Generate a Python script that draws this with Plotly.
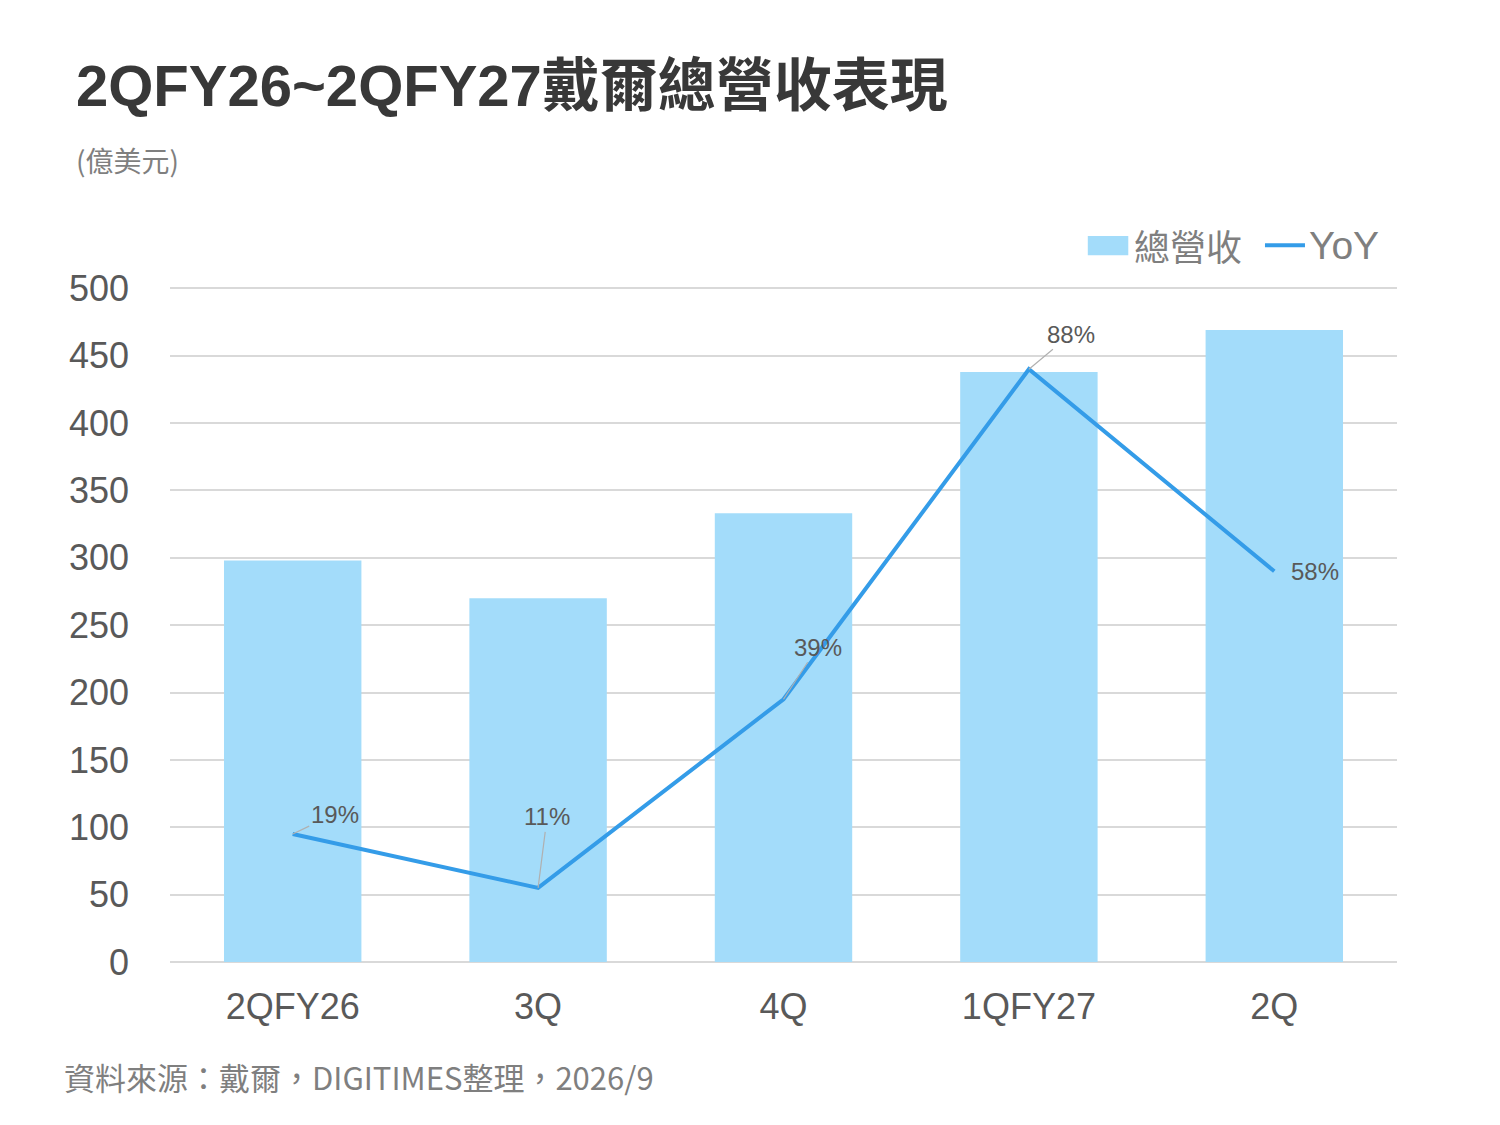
import plotly.graph_objects as go

# 資料
categorias = ["2QFY26", "3Q", "4Q", "1QFY27", "2Q"]
ingresos = [298, 270, 333, 438, 469]
yoy = [19, 11, 39, 88, 58]
yoy_etiquetas = ["19%", "11%", "39%", "88%", "58%"]
y_ticks = [0, 50, 100, 150, 200, 250, 300, 350, 400, 450, 500]

# desplazamiento de las etiquetas (px)
offsets = [(42, -20), (9, -71), (34, -52), (42, -35), (41, 0)]

COLOR_BAR = "#a3dcfa"
COLOR_LINE = "#349ce8"
GRIS = "#7f7f7f"
GRIS_OSCURO = "#595959"
FUENTE = "Liberation Sans, Noto Sans CJK TC, Arial, sans-serif"
FUENTE_CJK = "Noto Sans CJK TC, Liberation Sans, sans-serif"

fig = go.Figure()

fig.add_trace(go.Bar(
    x=categorias, y=ingresos, name="總營收",
    marker=dict(color=COLOR_BAR, line=dict(width=0)),
    width=0.56, showlegend=False,
))

fig.add_trace(go.Scatter(
    x=categorias, y=yoy, name="YoY", yaxis="y2",
    mode="lines", line=dict(color=COLOR_LINE, width=4), showlegend=False,
))

# etiquetas YoY con líneas guía
for cat, val, txt, (dx, dy) in zip(categorias, yoy, yoy_etiquetas, offsets):
    fuente = dict(family="Liberation Sans, Arial, sans-serif", size=24, color=GRIS_OSCURO)
    if dy != 0:
        fig.add_annotation(
            x=cat, y=val, xref="x", yref="y2", text=txt,
            showarrow=True, arrowhead=0, arrowwidth=1.2, arrowcolor="#b0b0b0",
            ax=dx, ay=dy, standoff=0, font=fuente,
        )
    else:
        fig.add_annotation(
            x=cat, y=val, xref="x", yref="y2", text=txt, showarrow=False,
            xshift=dx, font=fuente,
        )

# leyenda manual
fig.add_shape(type="rect", xref="paper", yref="paper",
              x0=0.748, x1=0.781, y0=1.047, y1=1.0756,
              fillcolor=COLOR_BAR, line=dict(width=0))
fig.add_annotation(text="總營收", xref="paper", yref="paper",
                   x=0.784, y=1.062, xanchor="left", yanchor="middle", showarrow=False,
                   font=dict(family=FUENTE_CJK, size=36, color=GRIS))
fig.add_shape(type="line", xref="paper", yref="paper",
              x0=0.8924, x1=0.925, y0=1.062, y1=1.062,
              line=dict(color=COLOR_LINE, width=4))
fig.add_annotation(text="YoY", xref="paper", yref="paper",
                   x=0.927, y=1.062, xanchor="left", yanchor="middle", showarrow=False,
                   font=dict(family="Liberation Sans, Arial, sans-serif", size=39, color=GRIS))

# título y notas
fig.add_annotation(
    text="<b>2QFY26~2QFY27戴爾總營收表現</b>", xref="paper", yref="paper",
    x=-0.078, y=1.299, xanchor="left", yanchor="middle", showarrow=False,
    font=dict(family=FUENTE, size=58, color="#383838"),
)
fig.add_annotation(
    text="(億美元)", xref="paper", yref="paper",
    x=-0.078, y=1.188, xanchor="left", yanchor="middle", showarrow=False,
    font=dict(family=FUENTE_CJK, size=28, color=GRIS),
)
fig.add_annotation(
    text="資料來源：戴爾，DIGITIMES整理，2026/9", xref="paper", yref="paper",
    x=-0.088, y=-0.170, xanchor="left", yanchor="middle", showarrow=False,
    font=dict(family=FUENTE_CJK, size=31, color=GRIS),
)

fig.update_layout(
    width=1500, height=1125,
    margin=dict(l=162, r=111, t=279, b=171),
    paper_bgcolor="white", plot_bgcolor="white",
    font=dict(family=FUENTE, color=GRIS),
    showlegend=False,
    xaxis=dict(
        showgrid=False, showline=False, ticks="",
        tickfont=dict(family="Liberation Sans, Arial, sans-serif", size=36, color=GRIS_OSCURO),
        ticklabelstandoff=20,
    ),
    yaxis=dict(
        range=[0, 501], tickvals=y_ticks,
        showgrid=True, gridcolor="#d9d9d9", gridwidth=1.5,
        zeroline=True, zerolinecolor="#d9d9d9", zerolinewidth=1.5,
        showline=False, ticks="",
        tickfont=dict(family="Liberation Sans, Arial, sans-serif", size=36, color=GRIS_OSCURO),
        ticklabelstandoff=40,
    ),
    yaxis2=dict(
        range=[0, 100.2], overlaying="y", side="right", visible=False,
    ),
)

fig.write_html("out.html")
